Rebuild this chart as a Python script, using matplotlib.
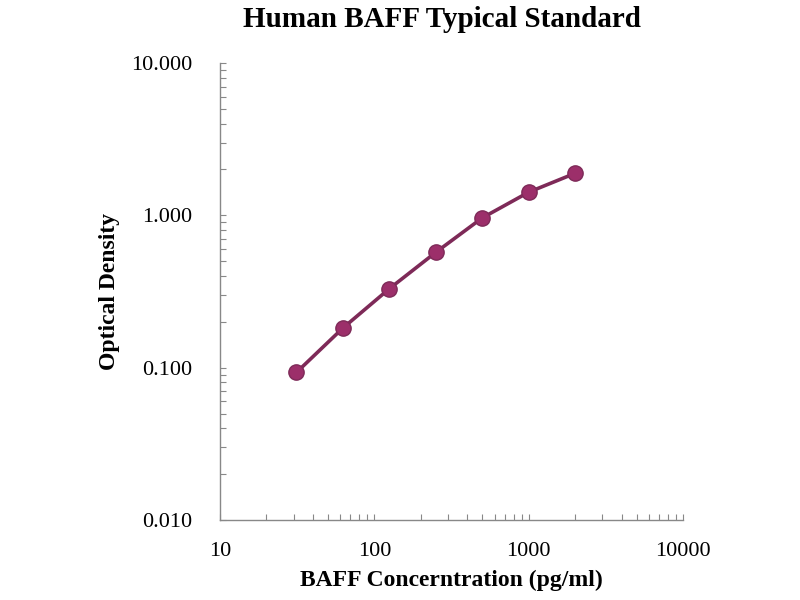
import numpy as np
import matplotlib.pyplot as plt
from matplotlib.ticker import FixedLocator, LogLocator, NullFormatter

# standard curve data
conc = [31.25, 62.5, 125, 250, 500, 1000, 2000]
od = [0.093, 0.182, 0.330, 0.572, 0.963, 1.42, 1.89]

plt.rcParams['font.family'] = ['Liberation Serif', 'DejaVu Serif']

fig = plt.figure(figsize=(8, 6), dpi=100)
ax = fig.add_axes([0.275, 0.1333, 0.579, 0.7617])

ax.plot(conc, od, '-o', color='#7e2a58', lw=2.6,
        markersize=11, markerfacecolor='#9c2f6a', markeredgecolor='#7e2a58')

ax.set_xscale('log')
ax.set_yscale('log')
ax.set_xlim(10, 10000)
ax.set_ylim(0.01, 10)

ax.xaxis.set_major_locator(FixedLocator([10, 100, 1000, 10000]))
ax.set_xticklabels(['10', '100', '1000', '10000'])
ax.yaxis.set_major_locator(FixedLocator([0.01, 0.1, 1, 10]))
ax.set_yticklabels(['0.010', '0.100', '1.000', '10.000'])
ax.xaxis.set_minor_locator(LogLocator(base=10, subs=np.arange(2, 10)))
ax.yaxis.set_minor_locator(LogLocator(base=10, subs=np.arange(2, 10)))
ax.xaxis.set_minor_formatter(NullFormatter())
ax.yaxis.set_minor_formatter(NullFormatter())

ax.tick_params(which='both', direction='in', length=4, width=0.8, color='#888888')
ax.tick_params(axis='x', which='major', pad=16, labelsize=16)
ax.tick_params(axis='y', which='major', pad=20, labelsize=16)

for s in ['top', 'right']:
    ax.spines[s].set_visible(False)
for s in ['left', 'bottom']:
    ax.spines[s].set_color('#888888')
    ax.spines[s].set_linewidth(1.0)

ax.set_title('Human BAFF Typical Standard', fontsize=21, fontweight='bold', pad=26, x=0.48)
ax.set_xlabel('BAFF Concerntration (pg/ml)', fontsize=17, fontweight='bold', labelpad=6)
ax.set_ylabel('Optical Density', fontsize=17, fontweight='bold', labelpad=8)

plt.savefig('out.png', dpi=100)
